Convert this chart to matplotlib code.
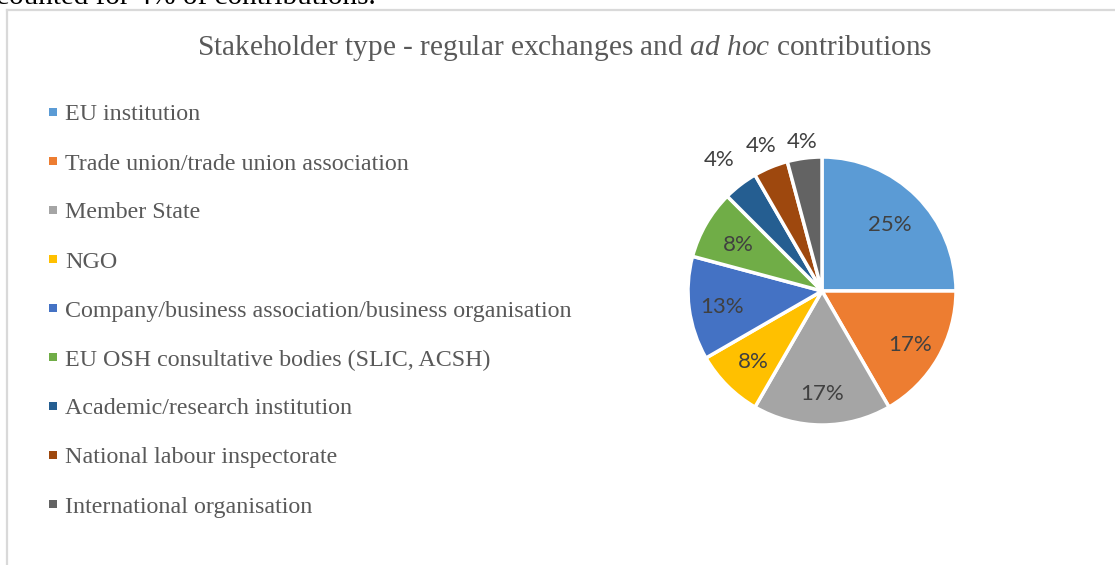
import numpy as np
import matplotlib.pyplot as plt
from matplotlib.patches import Rectangle
from matplotlib.lines import Line2D

W, H = 1115, 565

categories = ['EU institution', 'Trade union/trade union association', 'Member State', 'NGO',
              'Company/business association/business organisation',
              'EU OSH consultative bodies (SLIC, ACSH)', 'Academic/research institution',
              'National labour inspectorate', 'International organisation']
counts = [6, 4, 4, 2, 3, 2, 1, 1, 1]
colors = ['#5B9BD5', '#ED7D31', '#A5A5A5', '#FFC000', '#4472C4',
          '#70AD47', '#255E91', '#9E480E', '#636363']
# label distance (fraction of radius) per slice, the small ones sit outside
label_dist = [0.72, 0.76, 0.75, 0.72, 0.75, 0.72, 1.26, 1.19, 1.14]

plt.rcParams['mathtext.fontset'] = 'custom'
plt.rcParams['mathtext.rm'] = 'Liberation Serif'
plt.rcParams['mathtext.it'] = 'Liberation Serif:italic'

serif = ['Liberation Serif', 'DejaVu Serif']
grey = '#595959'

fig = plt.figure(figsize=(W/100, H/100), dpi=100)
fig.patch.set_facecolor('white')

def px(x, y):
	return x/W, 1 - y/H

# chart border (left and top only visible)
fig.add_artist(Line2D([7/W, 7/W], [0, 1 - 10/H], color='#d9d9d9', lw=1.6))
fig.add_artist(Line2D([7/W, 1], [1 - 10/H, 1 - 10/H], color='#d9d9d9', lw=1.6))

# cut-off sentence of the surrounding document
fig.text(*px(376, 4), 'accounted for 4% of contributions.', ha='right', va='baseline',
	fontsize=21, family=serif, color='black')

# title
fig.text(*px(565, 48), 'Stakeholder type - regular exchanges and $\\it{ad}$ $\\it{hoc}$ contributions',
	ha='center', va='center', fontsize=21.2, family=serif, color=grey)

# legend
for i, (lab, c) in enumerate(zip(categories, colors)):
	y = 112 + 49*i
	fig.add_artist(Rectangle(px(49, y + 4), 8/W, 8/H, color=c, lw=0))
	fig.text(*px(65, y + 3), lab, ha='left', va='center', fontsize=17.3, family=serif, color=grey)

# pie
cx, cy, r = 822, 291, 134
side = 2*r*1.4
ax = fig.add_axes([(cx - side/2)/W, (H - cy - side/2)/H, side/W, side/H])
wedges, _ = ax.pie(counts, colors=colors, startangle=90, counterclock=False,
	wedgeprops=dict(edgecolor='white', linewidth=2.5))
total = sum(counts)
for w, n, d in zip(wedges, counts, label_dist):
	ang = np.deg2rad((w.theta1 + w.theta2)/2)
	ax.text(d*np.cos(ang), d*np.sin(ang) - 0.02, '%d%%' % int(100*n/total + 0.5),
		ha='center', va='center', fontsize=16, family=['Lato', 'DejaVu Sans'], color='#404040')
ax.set_xlim(-1.4, 1.4)
ax.set_ylim(-1.4, 1.4)
ax.set_aspect('equal')
ax.axis('off')

fig.savefig('out.png', dpi=100)
